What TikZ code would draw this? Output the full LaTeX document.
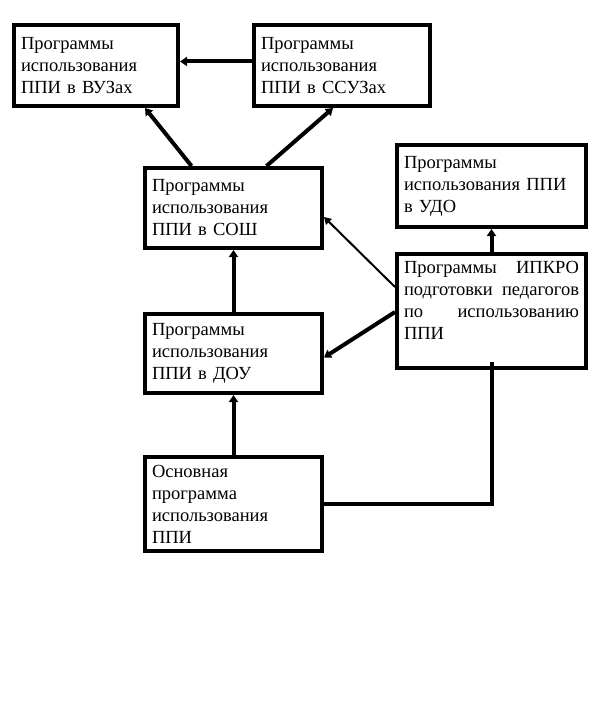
\documentclass[tikz,border=0pt]{standalone}
\usepackage{fontspec}
\setmainfont{Liberation Serif}
\usepackage{tikz}
\usetikzlibrary{arrows.meta}

\begin{document}
\begin{tikzpicture}[x=1pt, y=-1pt]
            %Block styles
            \tikzstyle{prog} = [draw, rectangle, line width=4pt, inner xsep=7pt, inner ysep=4pt, align=left, font=\fontsize{18.5}{22}\selectfont]
            \tikzstyle{link} = [line width=4pt, -{Triangle[length=7pt, width=9pt]}]
            \tikzstyle{thin} = [line width=2pt, -{Triangle[length=7pt, width=8pt]}]

            \useasboundingbox (0,0) rectangle (613,709);

            %Nodes
            \node[prog, text width=150pt, minimum height=81pt] at (96,65.5) (vuz) {Программы\\использования\\ППИ в ВУЗах};
            \node[prog, text width=162pt, minimum height=81pt] at (342,65.5) (ssuz) {Программы\\использования\\ППИ в ССУЗах};
            \node[prog, text width=163pt, minimum height=80pt] at (233.5,208) (sosh) {Программы\\использования\\ППИ в СОШ};
            \node[prog, text width=175pt, minimum height=82pt] at (491.5,186) (udo) {Программы\\использования ППИ\\в УДО};
            \node[prog, text width=175pt, minimum height=114pt] at (491.5,311) (ipkro) {Программы\hfill ИПКРО\\подготовки\hfill педагогов\\по\hfill использованию\\ППИ\rule[-22pt]{0pt}{22pt}};
            \node[prog, text width=163pt, minimum height=79pt] at (233.5,353.5) (dou) {Программы\\использования\\ППИ в ДОУ};
            \node[prog, text width=163pt, minimum height=94pt] at (233.5,504) (base) {Основная\\программа\\использования\\ППИ};

            \draw[link] ([yshift=4pt]ssuz.west) -- ([yshift=4pt]vuz.east);
            \draw[link] ([xshift=-42pt]sosh.north) -- ([xshift=49pt]vuz.south);
            \draw[link] ([xshift=33pt]sosh.north) -- ([xshift=-9pt]ssuz.south);
            \draw[thin] ([yshift=24pt]ipkro.west) -- ([yshift=-9pt]sosh.east);
            \draw[link] ([yshift=-1pt]ipkro.west) -- ([yshift=-4pt]dou.east);
            \draw[link] (ipkro.north) -- (udo.south);
            \draw[link] (dou.north) -- (sosh.south);
            \draw[link] (base.north) -- (dou.south);
            \draw[line width=4pt, shorten >=-8pt] (base.east) -| (ipkro.south);
        \end{tikzpicture}
\end{document}
